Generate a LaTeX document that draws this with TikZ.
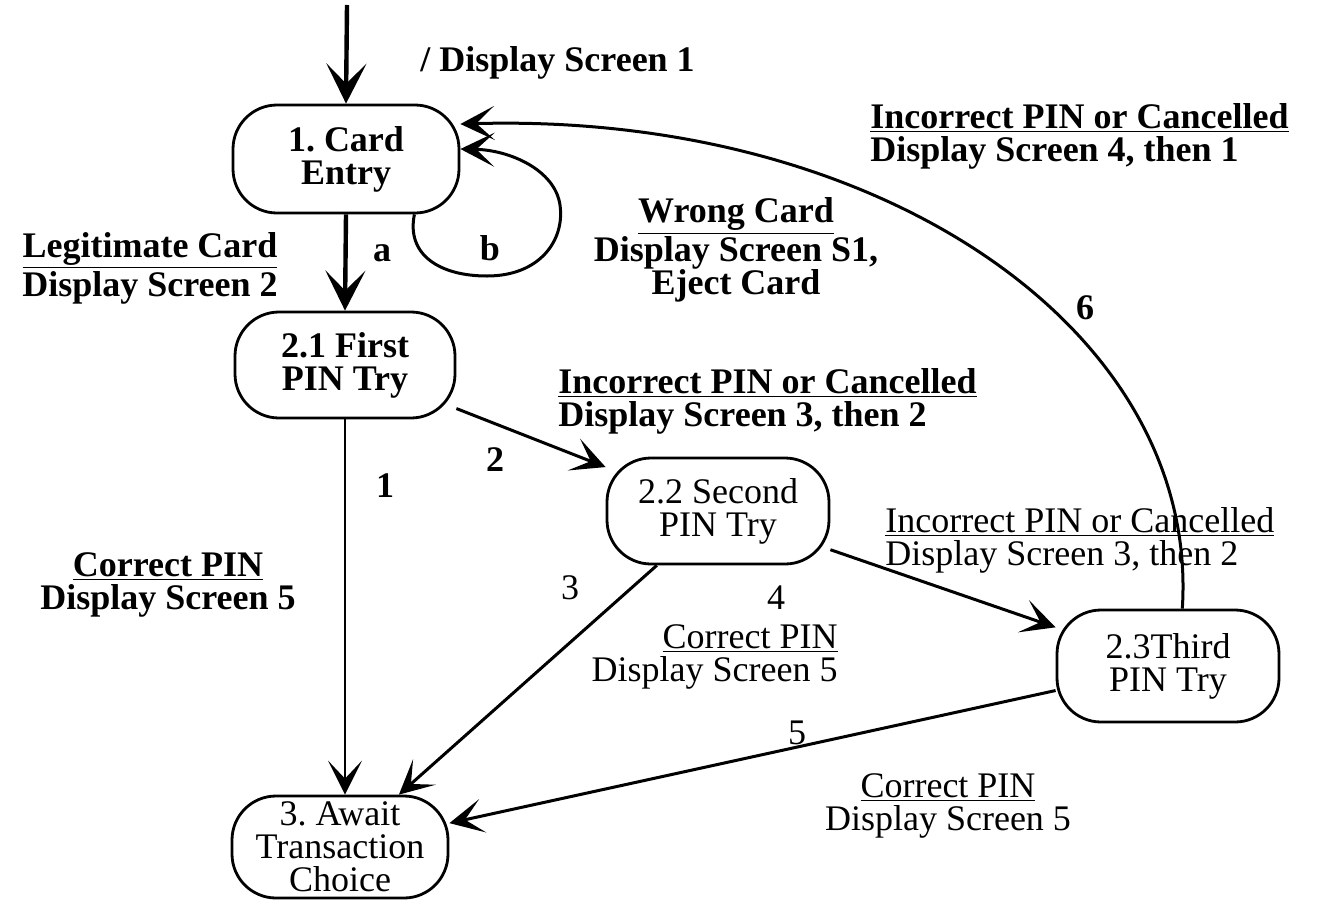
\documentclass[tikz,border=0pt]{standalone}
\usepackage{fontspec}
\setmainfont{Liberation Serif}
\usetikzlibrary{arrows.meta}
\frenchspacing
\begin{document}
\begin{tikzpicture}[x=0.5pt,y=-0.5pt,
  state/.style={draw, line width=1.4pt, rounded corners=22pt, align=center, inner sep=0pt,
    font=\fontsize{18}{16.5}\selectfont},
  bstate/.style={state, font=\fontsize{18}{16.5}\selectfont\bfseries},
  edge/.style={line width=1.5pt, -{Stealth[length=17pt,width=17pt,inset=9pt]}},
  thick edge/.style={edge, line width=2.2pt, -{Stealth[length=20pt,width=20pt,inset=10pt]}},
  lbl/.style={inner sep=0pt, font=\fontsize{18}{16.5}\selectfont},
  blbl/.style={lbl, font=\fontsize{18}{16.5}\selectfont\bfseries}
]
\useasboundingbox (0,0) rectangle (1328,900);

% states
\node[bstate, minimum width=113pt, minimum height=54pt] (n1) at (346,159) {1. Card\\Entry};
\node[bstate, minimum width=110pt, minimum height=53pt] (n21) at (345,365) {2.1 First\\PIN Try};
\node[state, minimum width=111pt, minimum height=53pt] (n22) at (718,511) {2.2 Second\\PIN Try};
\node[state, minimum width=111pt, minimum height=56pt] (n23) at (1168,666) {2.3Third\\PIN Try};
\node[state, minimum width=108pt, minimum height=51pt] (n3) at (340,847) {3. Await\\Transaction\\Choice};

\coordinate (start) at (347,5);

% connectors
\draw[thick edge] (start) -- (n1.north);
\draw[thick edge] (n1.south) -- (n21.north);
\draw[edge] (n1.-39) .. controls (406,255) and (440,276) .. (487,276)
  .. controls (540,276) and (565,240) .. (560,205)
  .. controls (555,170) and (510,150) .. (n1.5);
\draw[edge, line width=1.2pt] (n21.south) -- (n21.south |- n3.north);
\draw[edge] (n21) -- (n22);
\draw[edge] (n22) -- (n3);
\draw[edge] (n22) -- (n23);
\draw[edge] (n23) -- (n3);
\draw[edge] (n23.76) .. controls (1200,330) and (880,112) .. (n1.17);

% labels
\node[blbl, anchor=west] (l0) at (420,63) {/ Display Screen 1};
\node[blbl, align=center] (la) at (150,268) {\underline{Legitimate Card}\\Display Screen 2};
\node[blbl] (ea) at (382,253) {a};
\node[blbl] (eb) at (490,248) {b};
\node[blbl, align=center] (lb) at (736,250) {\underline{Wrong Card}\\Display Screen S1,\\Eject Card};
\node[blbl, align=left, anchor=west] (l6) at (870,136) {\underline{Incorrect PIN or Cancelled}\\Display Screen 4, then 1};
\node[blbl] (e6) at (1085,308) {6};
\node[blbl, align=left, anchor=west] (l2) at (558,401) {\underline{Incorrect PIN or Cancelled}\\Display Screen 3, then 2};
\node[blbl] (e2) at (495,460) {2};
\node[blbl] (e1) at (385,486) {1};
\node[blbl, align=center] (l1) at (168,585) {\underline{Correct PIN}\\Display Screen 5};
\node[lbl, align=left, anchor=west] (l4) at (885,540) {\underline{Incorrect PIN or Cancelled}\\Display Screen 3, then 2};
\node[lbl] (e3) at (570,588) {3};
\node[lbl] (e4) at (776,598) {4};
\node[lbl, align=right, anchor=east] (l3) at (838,657) {\underline{Correct PIN}\\Display Screen 5};
\node[lbl] (e5) at (797,733) {5};
\node[lbl, align=center] (l5) at (948,806) {\underline{Correct PIN}\\Display Screen 5};
\end{tikzpicture}
\end{document}
